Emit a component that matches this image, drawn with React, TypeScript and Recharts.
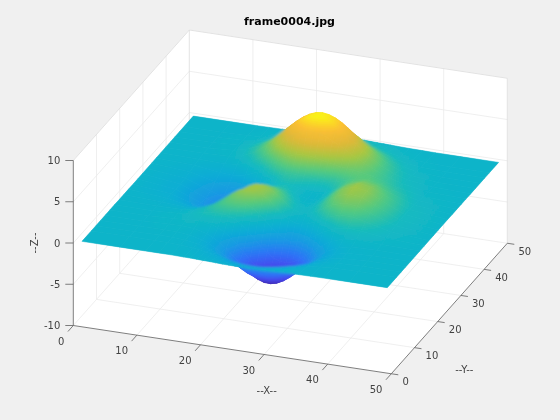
import React from "react";
import { ScatterChart, Scatter, XAxis, YAxis } from "recharts";

const title = "frame0004.jpg";
const xTicks = [0, 10, 20, 30, 40, 50];
const yTicks = [0, 10, 20, 30, 40, 50];
const zTicks = [-10, -5, 0, 5, 10];
const xNodesMain = [1, 7, 11, 13, 15, 17, 19, 21, 23, 25, 27, 29, 31, 33, 35, 37, 39, 43, 49];
const xNodesMid = [18, 20, 22, 24, 26, 28, 30, 32];
const yNodes = [1, 5, 7, 9, 11, 13, 15, 17, 19, 21, 23, 25, 27, 29, 31, 33, 35, 37, 39, 41, 43, 45, 49];
// Surface heights, one row for each entry of yNodes, one value for each entry of xNodesMain.
const zRowsMain = [
  [0, 0, 0, 0, 0, -0.03, -0.06, -0.11, -0.17, -0.2, -0.21, -0.19, -0.14, -0.09, -0.05, -0.03, -0.01, 0, 0],
  [0, 0.01, 0.02, 0, -0.06, -0.2, -0.44, -0.76, -1.09, -1.3, -1.33, -1.17, -0.88, -0.57, -0.32, -0.15, -0.06, -0.01, 0],
  [0, 0.01, 0.03, 0.01, -0.1, -0.36, -0.83, -1.45, -2.08, -2.51, -2.57, -2.26, -1.7, -1.1, -0.61, -0.29, -0.12, -0.01, 0],
  [0, 0.02, 0.06, 0.04, -0.11, -0.49, -1.2, -2.19, -3.22, -3.95, -4.09, -3.61, -2.72, -1.75, -0.95, -0.44, -0.17, -0.01, 0],
  [0, 0.02, 0.11, 0.13, 0.02, -0.38, -1.23, -2.5, -3.9, -4.96, -5.25, -4.68, -3.52, -2.23, -1.18, -0.51, -0.17, 0, 0],
  [0, 0.02, 0.15, 0.27, 0.33, 0.12, -0.56, -1.81, -3.38, -4.71, -5.25, -4.78, -3.58, -2.19, -1.06, -0.37, -0.05, 0.04, 0],
  [0, -0.01, 0.14, 0.37, 0.7, 0.92, 0.74, -0.11, -1.53, -2.99, -3.81, -3.65, -2.67, -1.44, -0.46, 0.07, 0.22, 0.11, 0.01],
  [-0.01, -0.08, -0.04, 0.25, 0.82, 1.54, 2.04, 1.85, 0.83, -0.6, -1.67, -1.84, -1.18, -0.23, 0.48, 0.73, 0.64, 0.22, 0.01],
  [-0.01, -0.21, -0.42, -0.23, 0.41, 1.48, 2.56, 3.01, 2.44, 1.16, 0, -0.34, 0.17, 0.98, 1.48, 1.48, 1.12, 0.34, 0.02],
  [-0.02, -0.36, -0.96, -1.01, -0.49, 0.66, 2.07, 2.95, 2.74, 1.66, 0.58, 0.32, 0.95, 1.82, 2.29, 2.13, 1.56, 0.47, 0.02],
  [-0.03, -0.5, -1.48, -1.8, -1.52, -0.47, 1.02, 2.13, 2.18, 1.32, 0.44, 0.4, 1.24, 2.29, 2.8, 2.56, 1.87, 0.55, 0.03],
  [-0.03, -0.57, -1.78, -2.3, -2.25, -1.37, 0.05, 1.23, 1.45, 0.81, 0.16, 0.31, 1.31, 2.44, 2.97, 2.71, 1.97, 0.58, 0.03],
  [-0.03, -0.56, -1.79, -2.39, -2.47, -1.78, -0.54, 0.57, 0.88, 0.43, -0.02, 0.23, 1.22, 2.29, 2.79, 2.54, 1.84, 0.54, 0.03],
  [-0.02, -0.47, -1.54, -2.07, -2.19, -1.66, -0.63, 0.32, 0.66, 0.39, 0.07, 0.31, 1.12, 1.97, 2.35, 2.12, 1.53, 0.45, 0.02],
  [-0.02, -0.35, -1.11, -1.46, -1.48, -0.97, -0.04, 0.86, 1.29, 1.18, 0.93, 0.97, 1.37, 1.8, 1.92, 1.65, 1.16, 0.34, 0.02],
  [-0.01, -0.21, -0.62, -0.72, -0.5, 0.19, 1.25, 2.32, 2.98, 3.06, 2.77, 2.44, 2.21, 2.02, 1.73, 1.31, 0.86, 0.23, 0.01],
  [-0.01, -0.1, -0.19, -0.04, 0.45, 1.41, 2.73, 4.08, 5.03, 5.3, 4.92, 4.16, 3.29, 2.46, 1.73, 1.12, 0.66, 0.15, 0.01],
  [0, -0.02, 0.09, 0.4, 1.06, 2.16, 3.63, 5.14, 6.26, 6.63, 6.21, 5.19, 3.92, 2.7, 1.7, 0.98, 0.52, 0.1, 0],
  [0, 0.01, 0.2, 0.54, 1.19, 2.22, 3.56, 4.95, 5.99, 6.37, 5.97, 4.97, 3.69, 2.46, 1.48, 0.8, 0.39, 0.07, 0],
  [0, 0.02, 0.19, 0.46, 0.96, 1.74, 2.74, 3.78, 4.57, 4.86, 4.56, 3.79, 2.79, 1.84, 1.07, 0.56, 0.26, 0.04, 0],
  [0, 0.02, 0.13, 0.3, 0.62, 1.1, 1.72, 2.36, 2.85, 3.03, 2.84, 2.36, 1.73, 1.13, 0.65, 0.34, 0.15, 0.02, 0],
  [0, 0.01, 0.07, 0.16, 0.32, 0.57, 0.89, 1.22, 1.47, 1.57, 1.47, 1.22, 0.89, 0.58, 0.33, 0.17, 0.08, 0.01, 0],
  [0, 0, 0.01, 0.03, 0.05, 0.09, 0.14, 0.19, 0.23, 0.25, 0.23, 0.19, 0.14, 0.09, 0.05, 0.03, 0.01, 0, 0],
];
// Heights at the extra columns in xNodesMid, one row for each entry of yNodes.
const zRowsMid = [
  [-0.04, -0.09, -0.14, -0.19, -0.21, -0.2, -0.16, -0.12],
  [-0.3, -0.59, -0.93, -1.21, -1.34, -1.27, -1.03, -0.72],
  [-0.57, -1.12, -1.78, -2.33, -2.59, -2.46, -2.0, -1.39],
  [-0.8, -1.67, -2.72, -3.65, -4.1, -3.92, -3.19, -2.22],
  [-0.75, -1.82, -3.21, -4.5, -5.22, -5.07, -4.15, -2.87],
  [-0.15, -1.12, -2.59, -4.11, -5.1, -5.13, -4.24, -2.87],
  [0.9, 0.4, -0.77, -2.29, -3.51, -3.86, -3.23, -2.05],
  [1.85, 2.05, 1.43, 0.12, -1.23, -1.88, -1.59, -0.7],
  [2.06, 2.9, 2.85, 1.85, 0.51, -0.3, -0.17, 0.58],
  [1.38, 2.62, 2.99, 2.27, 1.06, 0.33, 0.55, 1.4],
  [0.27, 1.68, 2.3, 1.82, 0.81, 0.28, 0.74, 1.79],
  [-0.69, 0.73, 1.48, 1.2, 0.42, 0.11, 0.74, 1.91],
  [-1.19, 0.08, 0.84, 0.71, 0.15, -0.01, 0.67, 1.79],
  [-1.18, -0.1, 0.59, 0.57, 0.19, 0.11, 0.67, 1.58],
  [-0.53, 0.45, 1.15, 1.28, 1.04, 0.9, 1.14, 1.61],
  [0.69, 1.81, 2.72, 3.09, 2.94, 2.59, 2.31, 2.12],
  [2.04, 3.43, 4.63, 5.25, 5.18, 4.57, 3.73, 2.87],
  [2.87, 4.41, 5.77, 6.55, 6.51, 5.75, 4.56, 3.29],
  [2.86, 4.27, 5.54, 6.28, 6.26, 5.53, 4.34, 3.05],
  [2.22, 3.27, 4.23, 4.79, 4.78, 4.22, 3.3, 2.3],
  [1.4, 2.04, 2.63, 2.98, 2.98, 2.63, 2.05, 1.42],
  [0.72, 1.06, 1.36, 1.54, 1.54, 1.36, 1.06, 0.73],
  [0.12, 0.17, 0.22, 0.25, 0.25, 0.22, 0.17, 0.12],
];
const colorStops: number[][] = [
  [0.2422, 0.1504, 0.6603],
  [0.2780, 0.2800, 0.9300],
  [0.1800, 0.4500, 0.9700],
  [0.1000, 0.6000, 0.8900],
  [0.0450, 0.6800, 0.8300],
  [0.0800, 0.7300, 0.7500],
  [0.3300, 0.7900, 0.5000],
  [0.6500, 0.7800, 0.2600],
  [0.8800, 0.7200, 0.2200],
  [0.9900, 0.7500, 0.2000],
  [0.9769, 0.9839, 0.0805],
];

const Z_MIN = -5.5;
const Z_MAX = 6.7;
const W = 560;
const H = 420;

const columnOrder = [
  ...xNodesMain.map((x, i) => ({ x, main: true, i })),
  ...xNodesMid.map((x, i) => ({ x, main: false, i })),
].sort((a, b) => a.x - b.x);
const xNodes = columnOrder.map((c) => c.x);
const zRows = yNodes.map((_, r) => columnOrder.map((c) => (c.main ? zRowsMain[r][c.i] : zRowsMid[r][c.i])));

const project = (x: number, y: number, z: number) => ({
  sx: 73.3 + 6.36 * x + 2.32 * y,
  sy: 243 + 0.965 * x - 2.61 * y - 8.25 * z,
});

const toT = (z: number) => Math.min(1, Math.max(0, (z - Z_MIN) / (Z_MAX - Z_MIN)));
const colorAt = (tt: number) => {
  const t = tt * (colorStops.length - 1);
  const i = Math.min(colorStops.length - 2, Math.floor(t));
  const f = t - i;
  const c = colorStops[i].map((v, k) => Math.round(255 * (v + (colorStops[i + 1][k] - v) * f)));
  return `rgb(${c[0]},${c[1]},${c[2]})`;
};

// Paint one quad with a gradient that follows the colour change over its four corners.
const shade = (corners: { sx: number; sy: number }[], ts: number[]) => {
  const mx = corners.reduce((s, p) => s + p.sx, 0) / 4;
  const my = corners.reduce((s, p) => s + p.sy, 0) / 4;
  const mt = ts.reduce((s, t) => s + t, 0) / 4;
  let sxx = 0, sxy = 0, syy = 0, sxt = 0, syt = 0;
  corners.forEach((p, i) => {
    const dx = p.sx - mx, dy = p.sy - my, dt = ts[i] - mt;
    sxx += dx * dx; sxy += dx * dy; syy += dy * dy; sxt += dx * dt; syt += dy * dt;
  });
  const det = sxx * syy - sxy * sxy;
  const tMin = Math.min(...ts), tMax = Math.max(...ts);
  if (det < 4 || tMax - tMin < 0.001) return { flat: colorAt(mt) };
  const a = (sxt * syy - syt * sxy) / det;
  const b = (syt * sxx - sxt * sxy) / det;
  const g2 = a * a + b * b;
  if (g2 < 1e-9) return { flat: colorAt(mt) };
  const lo = Math.max(0, tMin), hi = Math.min(1, tMax);
  return {
    x1: mx + (a * (lo - mt)) / g2,
    y1: my + (b * (lo - mt)) / g2,
    x2: mx + (a * (hi - mt)) / g2,
    y2: my + (b * (hi - mt)) / g2,
    stops: [0, 0.25, 0.5, 0.75, 1].map((o) => ({ o, c: colorAt(lo + (hi - lo) * o) })),
  };
};

// Surface cells, far to near.
const cells: any[] = [];
for (let r = yNodes.length - 2; r >= 0; r--) {
  for (let c = 0; c < xNodes.length - 1; c++) {
    const zs = [zRows[r][c], zRows[r][c + 1], zRows[r + 1][c + 1], zRows[r + 1][c]];
    const corners = [
      project(xNodes[c], yNodes[r], zs[0]),
      project(xNodes[c + 1], yNodes[r], zs[1]),
      project(xNodes[c + 1], yNodes[r + 1], zs[2]),
      project(xNodes[c], yNodes[r + 1], zs[3]),
    ];
    cells.push({ ...corners[0], corners, id: `g${r}_${c}`, paint: shade(corners, zs.map(toT)) });
  }
}

const seg = (a: number[], b: number[], stroke: string) => {
  const p = project(a[0], a[1], a[2]);
  const q = project(b[0], b[1], b[2]);
  return { ...p, dx: q.sx - p.sx, dy: q.sy - p.sy, stroke };
};

const GRID = "#ebebeb";
const EDGE = "#dcdcdc";
const AXIS = "#5e5e5e";
const gridSegs: any[] = [];
const inner = [10, 20, 30, 40];
inner.forEach((t) => {
  gridSegs.push(seg([t, 0, -10], [t, 50, -10], GRID));
  gridSegs.push(seg([t, 50, -10], [t, 50, 10], GRID));
  gridSegs.push(seg([0, t, -10], [50, t, -10], GRID));
  gridSegs.push(seg([0, t, -10], [0, t, 10], GRID));
});
[-5, 0, 5].forEach((z) => {
  gridSegs.push(seg([0, 0, z], [0, 50, z], GRID));
  gridSegs.push(seg([0, 50, z], [50, 50, z], GRID));
});
gridSegs.push(seg([0, 50, -10], [0, 50, 10], EDGE));
gridSegs.push(seg([50, 50, -10], [50, 50, 10], EDGE));
gridSegs.push(seg([0, 0, 10], [0, 50, 10], EDGE));
gridSegs.push(seg([0, 50, 10], [50, 50, 10], EDGE));
gridSegs.push(seg([0, 50, -10], [50, 50, -10], GRID));
gridSegs.push(seg([0, 0, -10], [0, 50, -10], GRID));

const axisSegs: any[] = [
  seg([0, 0, -10], [0, 0, 10], AXIS),
  seg([0, 0, -10], [50, 0, -10], AXIS),
  seg([50, 0, -10], [50, 50, -10], AXIS),
];
xTicks.forEach((t) => axisSegs.push(seg([t, 0, -10], [t, -2.3, -10], AXIS)));
yTicks.forEach((t) => axisSegs.push(seg([50, t, -10], [51.1, t, -10], AXIS)));
const tickSegs = zTicks.map((t) => {
  const p = project(0, 0, t);
  return { ...p, dx: -8, dy: 0, stroke: AXIS };
});

const labels: any[] = [
  ...xTicks.map((t) => {
    const p = project(t, 0, -10);
    return { sx: p.sx - 8.9, sy: p.sy + 15.7, text: String(t), anchor: "end" };
  }),
  ...yTicks.map((t) => {
    const p = project(50, t, -10);
    return { sx: p.sx + 11.1, sy: p.sy + 8, text: String(t), anchor: "start" };
  }),
  ...zTicks.map((t) => {
    const p = project(0, 0, t);
    return { sx: p.sx - 13, sy: p.sy, text: String(t), anchor: "end" };
  }),
  { sx: 266.7, sy: 390.3, text: "--X--", anchor: "middle" },
  { sx: 464.3, sy: 369.3, text: "--Y--", anchor: "middle" },
  { sx: 34, sy: 243, text: "--Z--", anchor: "middle", rotate: -90 },
  { sx: 289.5, sy: 21, text: title, anchor: "middle", bold: true },
];

const faceCorners = [
  project(0, 0, -10),
  project(50, 0, -10),
  project(50, 50, -10),
  project(50, 50, 10),
  project(0, 50, 10),
  project(0, 0, 10),
];
const face = [{ ...faceCorners[0], corners: faceCorners, paint: { flat: "#ffffff" } }];

const Poly = (props: any) => {
  const { cx, cy, payload } = props;
  const ox = cx - payload.sx;
  const oy = cy - payload.sy;
  const pts = payload.corners.map((c: any) => `${(c.sx + ox).toFixed(2)},${(c.sy + oy).toFixed(2)}`).join(" ");
  const paint = payload.paint;
  if (paint.flat) return <polygon points={pts} fill={paint.flat} stroke={paint.flat} strokeWidth={0.5} />;
  const ref = `url(#${payload.id})`;
  return (
    <g>
      <linearGradient
        id={payload.id}
        gradientUnits="userSpaceOnUse"
        x1={paint.x1 + ox}
        y1={paint.y1 + oy}
        x2={paint.x2 + ox}
        y2={paint.y2 + oy}
      >
        {paint.stops.map((s: any) => (
          <stop key={s.o} offset={s.o} stopColor={s.c} />
        ))}
      </linearGradient>
      <polygon points={pts} fill={ref} stroke={ref} strokeWidth={0.5} />
    </g>
  );
};
const Seg = (props: any) => {
  const { cx, cy, payload } = props;
  return (
    <line x1={cx} y1={cy} x2={cx + payload.dx} y2={cy + payload.dy} stroke={payload.stroke} strokeWidth={0.8} />
  );
};
const Label = (props: any) => {
  const { cx, cy, payload } = props;
  return (
    <text
      x={cx}
      y={cy}
      opacity={0.99}
      textAnchor={payload.anchor}
      dominantBaseline="central"
      fontFamily="'DejaVu Sans'"
      fontSize={payload.bold ? 11 : 10}
      fontWeight={payload.bold ? 700 : 400}
      fill={payload.bold ? "#000000" : "#404040"}
      transform={payload.rotate ? `rotate(${payload.rotate} ${cx} ${cy})` : undefined}
    >
      {payload.text}
    </text>
  );
};

export default function App() {
  return (
    <div style={{ position: "absolute", left: 0, top: 0, width: W, height: H, background: "#f0f0f0" }}>
      <style>{`.surface-smooth { filter: url(#smooth); clip-path: url(#surfaceClip); }`}</style>
      <ScatterChart width={W} height={H} margin={{ top: 0, right: 0, bottom: 0, left: 0 }}>
        <defs>
          <filter id="smooth" filterUnits="userSpaceOnUse" x="0" y="0" width={W} height={H}>
            <feGaussianBlur stdDeviation="1.8 1" />
          </filter>
          <clipPath id="surfaceClip">
            {cells.map((c, i) => (
              <polygon key={i} points={c.corners.map((p: any) => `${p.sx},${p.sy}`).join(" ")} />
            ))}
          </clipPath>
        </defs>
        <XAxis type="number" dataKey="sx" domain={[0, W]} hide />
        <YAxis type="number" dataKey="sy" domain={[0, H]} reversed hide />
        <Scatter data={face} shape={Poly} isAnimationActive={false} />
        <Scatter data={gridSegs} shape={Seg} isAnimationActive={false} />
        <Scatter data={axisSegs} shape={Seg} isAnimationActive={false} />
        <Scatter data={tickSegs} shape={Seg} isAnimationActive={false} />
        <Scatter data={cells} shape={Poly} isAnimationActive={false} />
        <Scatter data={cells} shape={Poly} isAnimationActive={false} className="surface-smooth" />
        <Scatter data={labels} shape={Label} isAnimationActive={false} />
      </ScatterChart>
    </div>
  );
}
